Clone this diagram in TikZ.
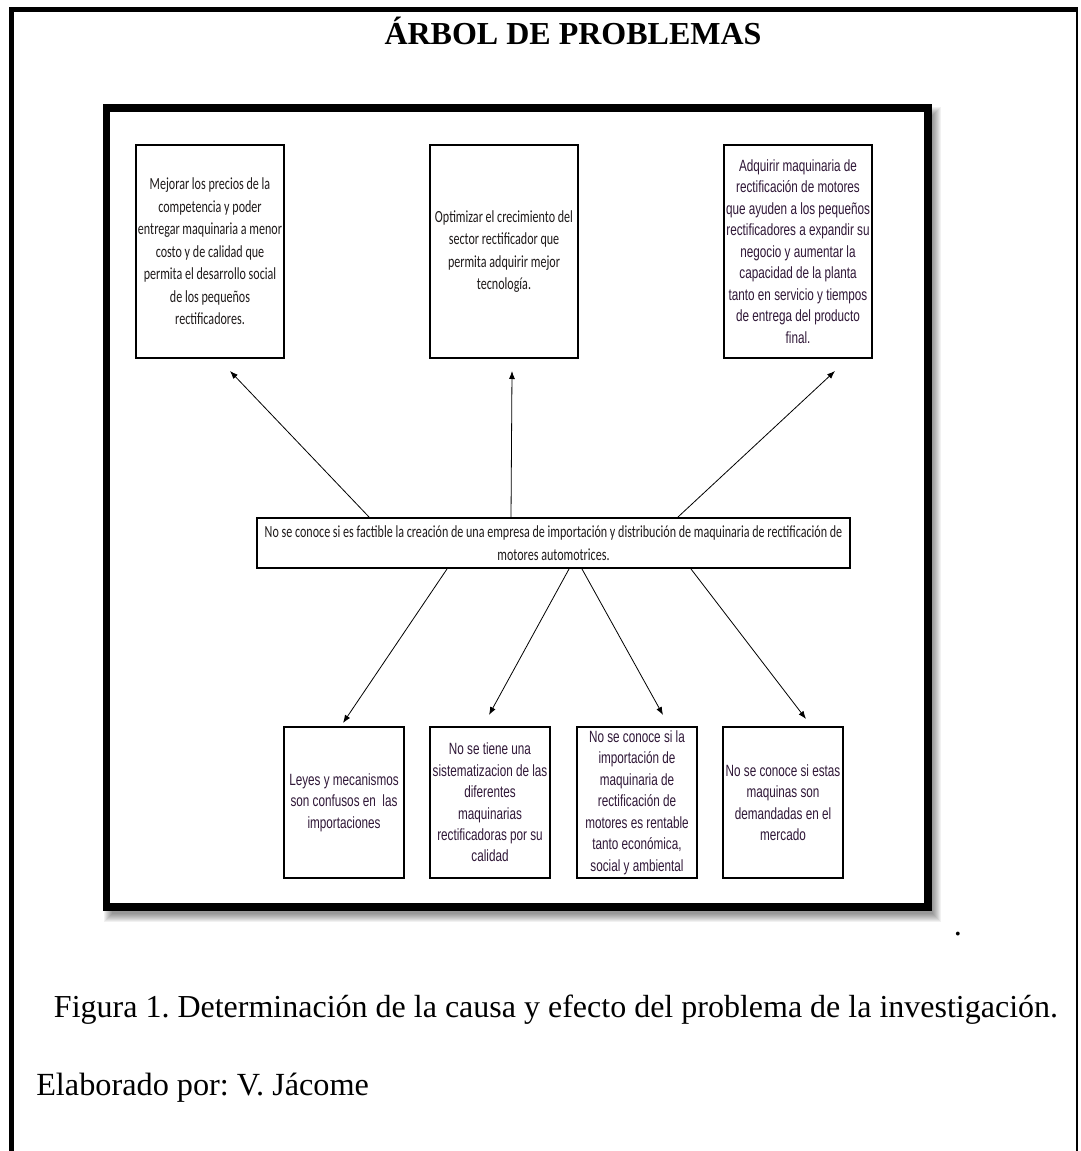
\documentclass[tikz,border=0pt]{standalone}
\usepackage{fontspec}
\setmainfont{Liberation Serif}[BoldFont={Liberation Serif Bold}]
\newfontfamily\titlefont{Liberation Serif Bold}
\newfontfamily\calfont[FakeStretch=0.71]{Carlito}
\newfontfamily\arfont[FakeStretch=0.72]{Liberation Sans}
\usetikzlibrary{calc,arrows.meta}
\definecolor{caltxt}{RGB}{30,26,26}
\definecolor{artxt}{RGB}{48,24,56}
\frenchspacing
\tikzset{
  box/.style={draw=black, line width=1.5pt, inner sep=0pt, align=center, fill=white},
  calbox/.style={box, text=caltxt, font=\calfont\fontsize{12.75}{16.9}\selectfont},
  arbox/.style={box, text=artxt, font=\arfont\fontsize{12.2}{16.1}\selectfont},
  effect/.style={minimum width=111pt, minimum height=159.75pt},
  cause/.style={minimum width=90pt, minimum height=113.25pt},
  link/.style={line width=0.6pt, -{Latex[length=6pt,width=4.5pt]}},
  captxt/.style={font=\frenchspacing\fontsize{24.2}{28}\selectfont},
}
\begin{document}
\begin{tikzpicture}[x=0.75pt,y=-0.75pt]
\useasboundingbox (0,0) rectangle (1080,1151);
% page frame
\draw[line width=3.75pt] (9,9.5) -- (1078,9.5);
\draw[line width=3.75pt] (11.5,7.6) -- (11.5,1151);
\draw[line width=1.1pt] (1077,9) -- (1077,1151);
% title
\node[font=\titlefont\fontsize{24}{28}\selectfont, anchor=base] (title) at (573,45) {ÁRBOL DE PROBLEMAS};
% inner frame with shadow
\foreach \k in {0,...,8}
  \fill[black,opacity=0.055] (106.5+5-\k,108+7-\k) rectangle (928+5+\k,907+7+\k);
\draw[line width=5.3pt, fill=white] (106.5,108) rectangle (928,907);
% effects
\node[calbox, effect] (e1) at (210,251.5) {Mejorar los precios de la\\competencia y poder\\entregar maquinaria a menor\\costo y de calidad que\\permita el desarrollo social\\de los pequeños\\rectificadores.};
\node[calbox, effect] (e2) at (504,251.5) {Optimizar el crecimiento del\\sector rectificador que\\permita adquirir mejor\\tecnología.};
\node[arbox, effect] (e3) at (798,251.5) {Adquirir maquinaria de\\rectificación de motores\\que ayuden a los pequeños\\rectificadores a expandir su\\negocio y aumentar la\\capacidad de la planta\\tanto en servicio y tiempos\\de entrega del producto\\final.};
% central problem
\node[calbox, minimum width=444.75pt, minimum height=37.5pt] (mid) at (553.5,543) {No se conoce si es factible la creación de una empresa de importación y distribución de maquinaria de rectificación de\\motores automotrices.};
% causes
\node[arbox, cause] (ca) at (344,802.5) {Leyes y mecanismos\\son confusos en\ \ las\\importaciones};
\node[arbox, cause] (cb) at (490,802.5) {No se tiene una\\sistematizacion de las\\diferentes\\maquinarias\\rectificadoras por su\\calidad};
\node[arbox, cause] (cc) at (637,802.5) {No se conoce si la\\importación de\\maquinaria de\\rectificación de\\motores es rentable\\tanto económica,\\social y ambiental};
\node[arbox, cause] (cd) at (783,802.5) {No se conoce si estas\\maquinas son\\demandadas en el\\mercado};
% arrow ends
\coordinate (t1) at ($(e1.south)+(20,12)$);
\coordinate (t2) at ($(e2.south)+(8,12)$);
\coordinate (t3) at ($(e3.south)+(37,12)$);
\coordinate (b1) at ($(ca.north)+(-1,-3)$);
\coordinate (b2) at ($(cb.north)+(-1,-11)$);
\coordinate (b3) at ($(cc.north)+(26,-11)$);
\coordinate (b4) at ($(cd.north)+(23,-7)$);
% arrows
\draw[link] ($(mid.north west)+(113,0)$) -- (t1);
\draw[link] ($(mid.north west)+(255,0)$) -- (t2);
\draw[link] ($(mid.north west)+(422,0)$) -- (t3);
\draw[link] ($(mid.south west)+(191,0)$) -- (b1);
\draw[link] ($(mid.south west)+(313,0)$) -- (b2);
\draw[link] ($(mid.south west)+(326,0)$) -- (b3);
\draw[link] ($(mid.south west)+(435,0)$) -- (b4);
% captions
\node[anchor=base, captxt] (dot) at (958,935) {.};
\node[anchor=base, font=\frenchspacing\fontsize{24}{28}\selectfont] (cap) at (556,1017) {Figura 1. Determinación de la causa y efecto del problema de la investigación.};
\node[anchor=base west, inner sep=0pt, captxt] (elab) at (36,1095) {Elaborado por: V. Jácome};
\end{tikzpicture}
\end{document}
